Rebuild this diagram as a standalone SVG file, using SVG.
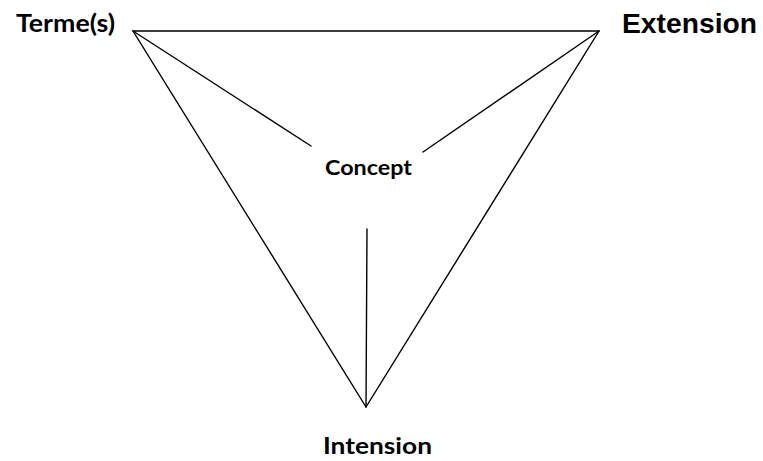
<svg xmlns="http://www.w3.org/2000/svg" width="763" height="461" viewBox="0 0 763 461">
<style>
.ln{stroke:#000;stroke-width:1.4;fill:none;stroke-linecap:round}
.cal{font-family:Lato,"Open Sans","Liberation Sans",sans-serif;font-weight:bold;fill:#000}
.ar{font-family:"Liberation Sans",Arial,sans-serif;font-weight:bold;fill:#000}
</style>
<rect width="763" height="461" fill="#fff"/>
<g id="connectors">
<polygon class="ln" points="133,31 599,31 366,407"/>
<line class="ln" x1="133" y1="31" x2="311" y2="146"/>
<line class="ln" x1="599" y1="31" x2="423" y2="152"/>
<line class="ln" x1="367" y1="229" x2="366" y2="407"/>
</g>
<g id="terme"><text class="cal" x="16" y="32" font-size="24" textLength="99" lengthAdjust="spacingAndGlyphs">Terme(s)</text></g>
<g id="extension"><text class="ar" x="622" y="33" font-size="27.5" textLength="135" lengthAdjust="spacingAndGlyphs">Extension</text></g>
<g id="concept"><text class="cal" x="325" y="175" font-size="21" textLength="87" lengthAdjust="spacingAndGlyphs">Concept</text></g>
<g id="intension"><text class="cal" x="323" y="454" font-size="23" textLength="109" lengthAdjust="spacingAndGlyphs">Intension</text></g>
</svg>
